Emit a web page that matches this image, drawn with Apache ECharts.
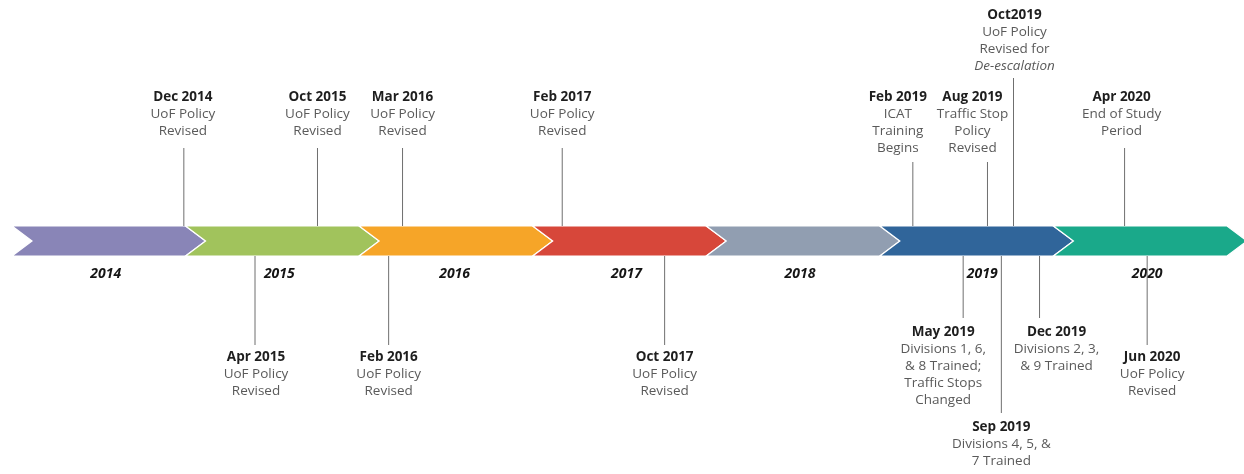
<!DOCTYPE html>
<html>
<head>
<meta charset="utf-8">
<script src="https://cdn.jsdelivr.net/npm/echarts@6/dist/echarts.min.js"></script>
<style>
  html, body { margin: 0; padding: 0; background: #fff; }
  #chart { width: 1244px; height: 474px; }
</style>
</head>
<body>
<div id="chart"></div>
<script>
// years on the band
const years = [2014, 2015, 2016, 2017, 2018, 2019, 2020];
// where each year label sits along the band (decimal year)
const yearLabelPos = [2014.54, 2015.54, 2016.55, 2017.54, 2018.54, 2019.59, 2020.54];

const eventTitles = ['Dec 2014', 'Apr 2015', 'Oct 2015', 'Feb 2016', 'Mar 2016', 'Feb 2017', 'Oct 2017',
  'Feb 2019', 'May 2019', 'Aug 2019', 'Sep 2019', 'Oct2019', 'Dec 2019', 'Apr 2020', 'Jun 2020'];
const eventDates = [2014.99, 2015.40, 2015.76, 2016.17, 2016.25, 2017.17, 2017.76,
  2019.19, 2019.48, 2019.62, 2019.70, 2019.77, 2019.92, 2020.41, 2020.54];
const eventSide = ['top', 'bottom', 'top', 'bottom', 'top', 'top', 'bottom',
  'top', 'bottom', 'top', 'bottom', 'top', 'bottom', 'top', 'bottom'];
const eventText = [
  ['UoF Policy', 'Revised'],
  ['UoF Policy', 'Revised'],
  ['UoF Policy', 'Revised'],
  ['UoF Policy', 'Revised'],
  ['UoF Policy', 'Revised'],
  ['UoF Policy', 'Revised'],
  ['UoF Policy', 'Revised'],
  ['ICAT', 'Training', 'Begins'],
  ['Divisions 1, 6,', '& 8 Trained;', 'Traffic Stops', 'Changed'],
  ['Traffic Stop', 'Policy', 'Revised'],
  ['Divisions 4, 5, &', '7 Trained'],
  ['UoF Policy', 'Revised for', 'De-escalation'],
  ['Divisions 2, 3,', '& 9 Trained'],
  ['End of Study', 'Period'],
  ['UoF Policy', 'Revised']
];
const italicLines = ['De-escalation'];

// layout: [text shift x, first text line y, end of leader line y]
const eventLayout = [
  [-1, 97, 148], [1, 357, 345], [0, 97, 148], [0, 357, 345], [0, 97, 148], [0, 97, 148], [0, 357, 345],
  [-15, 97, 162], [-20, 332, 318], [-15, 97, 162], [0, 427, 413], [1, 15, 78], [17, 332, 318],
  [-3, 97, 148], [5, 357, 345]
];

const yearColors = ['#8985b7', '#a1c35c', '#f6a528', '#d7473a', '#919eb1', '#30659a', '#1aa98a'];
const bandTop = 226, bandBottom = 256, tip = 20;
const FONT = '"Open Sans", "Noto Sans", sans-serif';

let myChart = echarts.init(document.getElementById('chart'));

myChart.setOption({
  animation: false,
  grid: { left: 12, right: 17, top: 0, bottom: 0 },
  xAxis: { type: 'value', min: 2014, max: 2021, show: false },
  yAxis: { type: 'value', min: 0, max: 1, show: false },
  series: [
    {
      // chevron band, one piece per year
      type: 'custom',
      clip: false,
      data: years.map(function (y) { return [y]; }),
      renderItem: function (params, api) {
        const s = api.coord([api.value(0), 0])[0];
        const e = api.coord([api.value(0) + 1, 0])[0];
        const mid = (bandTop + bandBottom) / 2;
        return {
          type: 'polygon',
          shape: {
            points: [[s, bandTop], [e, bandTop], [e + tip, mid], [e, bandBottom], [s, bandBottom], [s + tip, mid]]
          },
          style: { fill: yearColors[params.dataIndex], stroke: '#fff', lineWidth: 1.2 }
        };
      }
    },
    {
      // year labels
      type: 'custom',
      clip: false,
      data: yearLabelPos.map(function (p, i) { return [p, years[i]]; }),
      renderItem: function (params, api) {
        const x = api.coord([api.value(0), 0])[0];
        return {
          type: 'text',
          style: {
            text: String(years[params.dataIndex]),
            x: x, y: 274,
            align: 'center', verticalAlign: 'middle',
            font: 'italic bold 14px ' + FONT,
            fill: '#151515'
          }
        };
      }
    },
    {
      // events: leader line + label
      type: 'custom',
      clip: false,
      z: 3,
      data: eventDates.map(function (d, i) { return [d, i]; }),
      renderItem: function (params, api) {
        const i = params.dataIndex;
        const x = api.coord([api.value(0), 0])[0];
        const lay = eventLayout[i];
        const y0 = eventSide[i] === 'top' ? bandTop : bandBottom;
        let txt = '{t|' + eventTitles[i] + '}';
        eventText[i].forEach(function (l) {
          txt += '\n' + (italicLines.indexOf(l) >= 0 ? '{i|' + l + '}' : '{b|' + l + '}');
        });
        return {
          type: 'group',
          children: [
            {
              type: 'line',
              shape: { x1: x, y1: y0, x2: x, y2: lay[2] },
              style: { stroke: '#6f6f6f', lineWidth: 1 }
            },
            {
              type: 'text',
              style: {
                text: txt,
                x: x + lay[0], y: lay[1] - 8.5,
                align: 'center', verticalAlign: 'top',
                rich: {
                  t: { font: 'bold 13.5px ' + FONT, fill: '#1e1e1e', lineHeight: 17, align: 'center' },
                  b: { font: '13.5px ' + FONT, fill: '#5a5a5a', lineHeight: 17, align: 'center' },
                  i: { font: 'italic 13.5px ' + FONT, fill: '#5a5a5a', lineHeight: 17, align: 'center' }
                }
              }
            }
          ]
        };
      }
    }
  ]
});
window.onresize = myChart.resize;
</script>
</body>
</html>
